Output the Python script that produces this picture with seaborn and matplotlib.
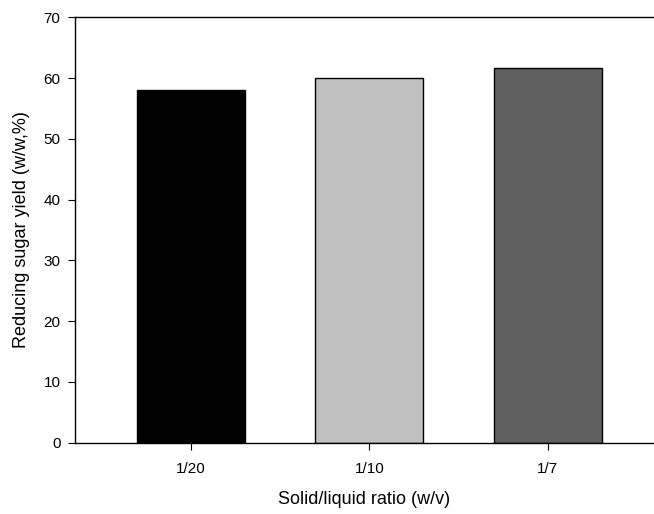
import matplotlib
matplotlib.use("Agg")
import matplotlib.pyplot as plt
import seaborn as sns
import pandas as pd

categories = ["1/20", "1/10", "1/7"]
values = [58.1, 60.0, 61.6]
colors = ["#000000", "#c0c0c0", "#606060"]

sns.set_style("ticks", {"text.color": "black", "axes.labelcolor": "black",
                        "xtick.color": "black", "ytick.color": "black",
                        "axes.edgecolor": "black"})
plt.rcParams['font.family'] = ['Liberation Sans', 'DejaVu Sans']

df = pd.DataFrame({"ratio": categories, "yield": values})

fig = plt.figure(figsize=(6.54, 5.14), dpi=100)
ax = fig.add_axes([75/654, 1 - 442.5/514, (653 - 75)/654, (442.5 - 17.3)/514])

sns.barplot(data=df, x="ratio", y="yield", hue="ratio", order=categories,
            hue_order=categories, palette=colors, width=0.605,
            edgecolor="black", linewidth=1.0, legend=False, ax=ax, saturation=1)

ax.set_xlim(-0.65, 2.59)
ax.set_ylim(0, 70)
ax.set_yticks(range(0, 71, 10))
ax.set_xlabel("Solid/liquid ratio (w/v)", fontsize=13, labelpad=11, color="black")
ax.set_ylabel("Reducing sugar yield (w/w,%)", fontsize=13, labelpad=10, color="black")
ax.tick_params(axis="both", labelsize=11, length=5, width=0.8, direction="out",
               color="black", labelcolor="black")
ax.tick_params(axis="x", pad=9)
ax.tick_params(axis="y", pad=5.5)
ax.spines["right"].set_visible(False)
ax.spines["top"].set_visible(True)
for s in ["left", "bottom", "top"]:
    ax.spines[s].set_linewidth(1.0)
    ax.spines[s].set_color("black")

fig.savefig("out.png", dpi=100)
